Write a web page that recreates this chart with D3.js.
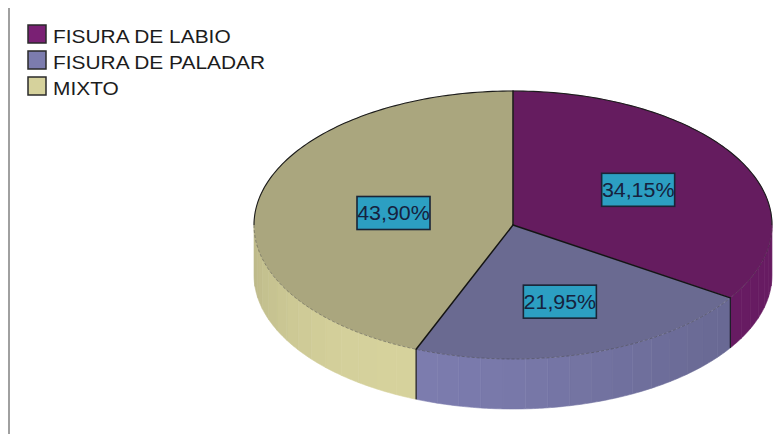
<!DOCTYPE html>
<html>
<head>
<meta charset="utf-8">
<script src="https://cdn.jsdelivr.net/npm/d3@7/dist/d3.min.js"></script>
<style>
  html, body { margin: 0; padding: 0; background: #fff; }
  svg { display: block; }
</style>
</head>
<body>
<svg id="chart" width="784" height="434"></svg>
<script>
// Tipo de fisura: porcentaje de casos
const categories = ["FISURA DE LABIO", "FISURA DE PALADAR", "MIXTO"];
const percents = [34.15, 21.95, 43.90];
const valueLabels = ["34,15%", "21,95%", "43,90%"];

// Colour per category (legend swatch / lit side) and the shaded top face
const baseColors = ["#7a2074", "#7c7cae", "#d6d29c"];
const topColors = ["#651c5f", "#6a6a91", "#aaa67e"];
// How far out along each slice's mid-angle its value box sits
const labelRadius = [0.55, 0.6, 0.47];

const svg = d3.select("#chart");
const W = 784, H = 434;
const cx = 513, cy = 225, rx = 259, ry = 134, depth = 50;
const font = "'Liberation Sans', Arial, sans-serif";

// Frame line on the left
svg.append("line")
  .attr("x1", 9).attr("x2", 9).attr("y1", 8).attr("y2", H)
  .attr("stroke", "#a0a0a0").attr("stroke-width", 2);

const pie = d3.pie().sort(null).value(d => d.value).startAngle(0).endAngle(2 * Math.PI);
const data = categories.map((c, i) => ({ name: c, value: percents[i], i }));
const arcs = pie(data);

const px = a => cx + rx * Math.sin(a);
const py = a => cy - ry * Math.cos(a);

// Side wall shading: brightest toward the lower-left front
function sideColor(i, a) {
  const base = d3.color(baseColors[i]);
  const f = Math.max(0, Math.cos(a - 206 * Math.PI / 180));
  const t = 0.2 + 0.8 * f * f;
  return d3.interpolateRgb(base.darker(0.6), base)(t);
}

const sides = svg.append("g");
const front0 = Math.PI / 2, front1 = 3 * Math.PI / 2;
const band = 5 * Math.PI / 180;
arcs.forEach(s => {
  const a0 = Math.max(s.startAngle, front0);
  const a1 = Math.min(s.endAngle, front1);
  if (a1 <= a0) return;
  const n = Math.max(1, Math.ceil((a1 - a0) / band));
  for (let k = 0; k < n; k++) {
    const b0 = a0 + (a1 - a0) * k / n;
    const b1 = a0 + (a1 - a0) * (k + 1) / n;
    const steps = 8;
    const pts = [];
    for (let j = 0; j <= steps; j++) {
      const a = b0 + (b1 - b0) * j / steps;
      pts.push([px(a), py(a)]);
    }
    for (let j = steps; j >= 0; j--) {
      const a = b0 + (b1 - b0) * j / steps;
      pts.push([px(a), py(a) + depth]);
    }
    const col = sideColor(s.data.i, (b0 + b1) / 2);
    sides.append("path")
      .attr("d", "M" + pts.map(p => p.join(",")).join("L") + "Z")
      .attr("fill", col)
      .attr("stroke", col)
      .attr("stroke-width", 0.6);
  }
});

// Vertical edges where slice boundaries meet the front wall
arcs.forEach(s => {
  const a = s.startAngle;
  if (a > front0 && a < front1) {
    sides.append("line")
      .attr("x1", px(a)).attr("x2", px(a))
      .attr("y1", py(a)).attr("y2", py(a) + depth)
      .attr("stroke", "#1e1e2a").attr("stroke-width", 1.3);
  }
});

// Top face: circular pie squashed into an ellipse
const arc = d3.arc().innerRadius(0).outerRadius(rx);
const topFace = svg.append("g")
  .attr("transform", `translate(${cx},${cy}) scale(1,${ry / rx})`);
topFace.selectAll("path")
  .data(arcs)
  .join("path")
  .attr("d", arc)
  .attr("fill", d => topColors[d.data.i])
  .attr("stroke", d => topColors[d.data.i])
  .attr("stroke-width", 0.5)
  .attr("vector-effect", "non-scaling-stroke");

const rim = (from, to) => d3.line()(d3.range(0, 161).map(j => {
  const a = from + (to - from) * j / 160;
  return [px(a), py(a)];
}));

// Dark rim along the back of the top face
svg.append("path")
  .attr("d", rim(-Math.PI / 2, Math.PI / 2))
  .attr("fill", "none")
  .attr("stroke", "#1c1c1c")
  .attr("stroke-width", 1.1);

// Soft dashed rim along the front edge of the top face
svg.append("path")
  .attr("d", rim(front0, front1))
  .attr("fill", "none")
  .attr("stroke", "#3a3a3a")
  .attr("stroke-opacity", 0.4)
  .attr("stroke-width", 1)
  .attr("stroke-dasharray", "3,2");

// Slice boundaries on the top face
arcs.forEach(s => {
  const a = s.startAngle;
  svg.append("line")
    .attr("x1", cx).attr("y1", cy)
    .attr("x2", px(a)).attr("y2", py(a))
    .attr("stroke", "#141414")
    .attr("stroke-width", 1.5)
    .attr("stroke-linecap", "round");
});

// Value boxes
const labels = svg.append("g");
arcs.forEach(s => {
  const mid = (s.startAngle + s.endAngle) / 2;
  const r = labelRadius[s.data.i];
  const lx = cx + rx * r * Math.sin(mid);
  const ly = cy - ry * r * Math.cos(mid);
  const g = labels.append("g").attr("transform", `translate(${lx},${ly})`);
  const bw = 73, bh = 33;
  g.append("rect")
    .attr("x", -bw / 2).attr("y", -bh / 2)
    .attr("width", bw).attr("height", bh)
    .attr("fill", "#2c9fc2")
    .attr("stroke", "#1a2436").attr("stroke-width", 1.6);
  g.append("text")
    .attr("x", 0).attr("y", 7)
    .attr("transform", "scale(1.07,1)")
    .attr("text-anchor", "middle")
    .attr("font-family", font)
    .attr("font-size", 20)
    .attr("fill", "#16223e")
    .text(valueLabels[s.data.i]);
});

// Legend
const legend = svg.append("g");
categories.forEach((c, i) => {
  const y0 = 25 + i * 26;
  legend.append("rect")
    .attr("x", 28).attr("y", y0)
    .attr("width", 18).attr("height", 18)
    .attr("fill", baseColors[i])
    .attr("stroke", "#2a2a2a").attr("stroke-width", 1.5);
  legend.append("text")
    .attr("transform", `translate(53,${y0 + 18}) scale(1.1,1)`)
    .attr("font-family", font)
    .attr("font-size", 19)
    .attr("fill", "#1c1c1c")
    .text(c);
});
</script>
</body>
</html>
